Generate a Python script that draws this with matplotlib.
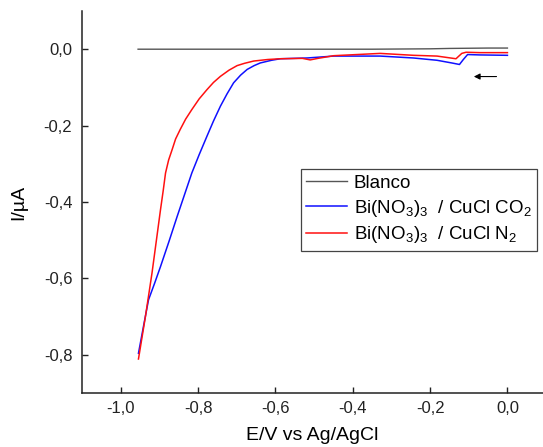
import numpy as np
import matplotlib
matplotlib.use("Agg")
import matplotlib.pyplot as plt

plt.rcParams['font.family'] = ['Liberation Sans', 'DejaVu Sans']
plt.rcParams['mathtext.fontset'] = 'custom'
plt.rcParams['mathtext.rm'] = 'Liberation Sans'
plt.rcParams['mathtext.it'] = 'Liberation Sans:italic'

# Blanco (electrolito sin catalizador)
E_blanco = [-0.955, -0.60, -0.35, -0.20, -0.15, -0.05, 0.0]
I_blanco = [0.0, 0.0, 0.0, 0.001, 0.002, 0.003, 0.003]

# Bi(NO3)3 / CuCl saturado con CO2
E_co2 = [-0.954, -0.940, -0.928, -0.912, -0.897, -0.875, -0.854, -0.835,
         -0.816, -0.797, -0.777, -0.760, -0.742, -0.725, -0.708, -0.690,
         -0.673, -0.655, -0.639, -0.610, -0.587, -0.518, -0.449, -0.329,
         -0.243, -0.182, -0.144, -0.124, -0.114, -0.103, -0.071, 0.0]
I_co2 = [-0.796, -0.720, -0.656, -0.612, -0.569, -0.503, -0.438, -0.381,
         -0.324, -0.276, -0.228, -0.188, -0.149, -0.117, -0.088, -0.068,
         -0.053, -0.043, -0.036, -0.029, -0.025, -0.023, -0.018, -0.018,
         -0.023, -0.029, -0.036, -0.040, -0.027, -0.014, -0.015, -0.016]

# Bi(NO3)3 / CuCl saturado con N2
E_n2 = [-0.954, -0.936, -0.919, -0.897, -0.890, -0.884, -0.876, -0.867,
        -0.858, -0.846, -0.832, -0.816, -0.797, -0.777, -0.760, -0.742,
        -0.720, -0.699, -0.680, -0.656, -0.620, -0.587, -0.530, -0.510,
        -0.490, -0.449, -0.329, -0.243, -0.182, -0.133, -0.118, -0.107,
        -0.071, 0.0]
I_n2 = [-0.811, -0.700, -0.586, -0.420, -0.370, -0.324, -0.290, -0.263,
        -0.235, -0.210, -0.183, -0.158, -0.130, -0.106, -0.087, -0.071,
        -0.055, -0.043, -0.037, -0.031, -0.027, -0.025, -0.024, -0.028,
        -0.024, -0.017, -0.011, -0.016, -0.018, -0.025, -0.011, -0.008,
        -0.009, -0.009]

fig = plt.figure(figsize=(5.43, 4.47), dpi=100)
ax = fig.add_axes([82/543, 54/447, 461/543, 382/447])

ax.plot(E_blanco, I_blanco, color='#555555', lw=1.0, label='Blanco')
ax.plot(E_co2, I_co2, color='#1010ff', lw=1.1,
        label=r'Bi(NO$_3$)$_3$  / CuCl CO$_2$')
ax.plot(E_n2, I_n2, color='#ff1010', lw=1.1,
        label=r'Bi(NO$_3$)$_3$  / CuCl N$_2$')

# Flecha de dirección del barrido
ax.annotate('', xy=(-0.094, -0.0716), xytext=(-0.021, -0.0716),
            arrowprops=dict(arrowstyle='-|>', color='black', lw=0.8,
                            mutation_scale=9))

ax.set_xlim(-1.1, 0.092)
ax.set_ylim(-0.9, 0.1)
xt = [-1.0, -0.8, -0.6, -0.4, -0.2, 0.0]
yt = [0.0, -0.2, -0.4, -0.6, -0.8]
ax.set_xticks(xt)
ax.set_xticklabels([f'{v:.1f}'.replace('.', ',') for v in xt])
ax.set_yticks(yt)
ax.set_yticklabels([f'{v:.1f}'.replace('.', ',') for v in yt])
ax.tick_params(direction='in', length=4.5, width=1.0, labelsize=12,
               colors='#222222')
ax.tick_params(axis='x', pad=6)
ax.tick_params(axis='y', pad=7)

for s in ['top', 'right']:
    ax.spines[s].set_visible(False)
for s in ['left', 'bottom']:
    ax.spines[s].set_linewidth(1.1)
    ax.spines[s].set_color('#222222')

ax.set_xlabel('E/V vs Ag/AgCl', fontsize=14, labelpad=8)
ax.set_ylabel('I/µA', fontsize=14, labelpad=12)

leg = ax.legend(loc='upper left', bbox_to_anchor=(0.474, 0.586),
                borderaxespad=0, fontsize=13.5, fancybox=False,
                framealpha=1, edgecolor='#444444', handlelength=2.2,
                handletextpad=0.35, labelspacing=0.3, borderpad=0.3)
leg.get_frame().set_linewidth(0.9)

fig.savefig('out.png', dpi=100)
